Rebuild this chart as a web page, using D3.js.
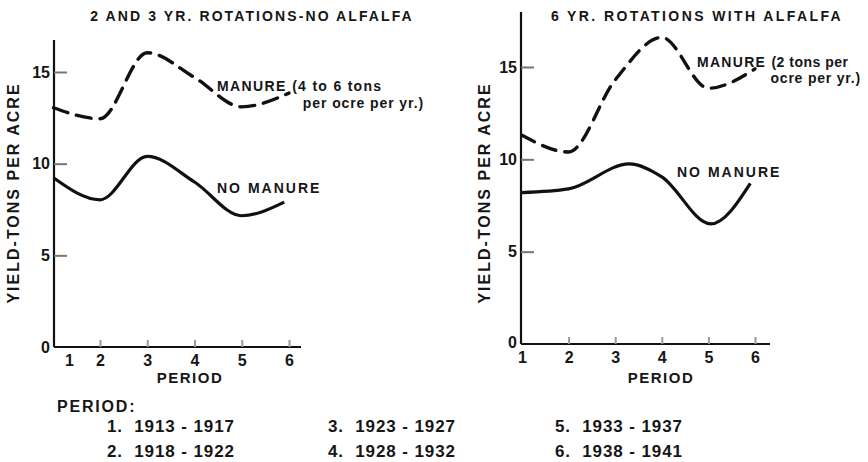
<!DOCTYPE html>
<html>
<head>
<meta charset="utf-8">
<script src="https://cdn.jsdelivr.net/npm/d3@7"></script>
<style>
body { margin: 0; background: #fff; }
text { font-family: "Liberation Sans", sans-serif; font-weight: bold; fill: #161616; }
</style>
</head>
<body>
<div id="graphic"></div>
<script>
// periods and y ticks
var periods = [1, 2, 3, 4, 5, 6];
var yTicks = [0, 5, 10, 15];

// left panel: 2 and 3 yr rotations
var leftManureX = [0.5, 2, 3, 4, 5, 6];
var leftManureY = [13.05, 12.45, 16.05, 14.7, 13.1, 13.85];
var leftNoManureX = [0.5, 2, 3, 4, 5, 5.9];
var leftNoManureY = [9.23, 8.03, 10.4, 9.0, 7.16, 7.9];

// right panel: 6 yr rotations
var rightManureX = [1, 2, 3, 4, 5, 6];
var rightManureY = [11.3, 10.4, 14.3, 16.6, 13.85, 14.9];
var rightNoManureX = [1, 2, 3.3, 4, 5.05, 5.9];
var rightNoManureY = [8.2, 8.4, 9.75, 9.05, 6.5, 8.7];

var periodYears = ["1913 - 1917", "1918 - 1922", "1923 - 1927", "1928 - 1932", "1933 - 1937", "1938 - 1941"];

var svg = d3.select("#graphic").append("svg")
    .attr("width", 868)
    .attr("height", 462);

function zip(xs, ys) {
  return xs.map(function (x, i) { return [x, ys[i]]; });
}

function panel(opt) {
  var g = svg.append("g");
  var x = opt.x, y = opt.y;

  // axis lines
  g.append("line")
    .attr("x1", opt.axisX).attr("x2", opt.axisX)
    .attr("y1", opt.axisTop).attr("y2", y(0))
    .attr("stroke", "#111").attr("stroke-width", 2.2);
  g.append("line")
    .attr("x1", opt.axisX).attr("x2", opt.axisRight)
    .attr("y1", y(0)).attr("y2", y(0))
    .attr("stroke", "#111").attr("stroke-width", 2.2);

  // y axis
  var ya = g.append("g")
    .attr("transform", "translate(" + opt.axisX + ",0)")
    .call(d3.axisLeft(y).tickValues(yTicks).tickFormat(d3.format("d"))
      .tickSizeInner(-13).tickSizeOuter(0).tickPadding(4));
  ya.select(".domain").remove();
  ya.selectAll(".tick line").attr("stroke", "#777").attr("stroke-width", 2);
  ya.selectAll(".tick").filter(function (d) { return d === 0; }).select("line").remove();
  ya.selectAll(".tick text").attr("font-size", 16)
    .style("font-family", "Liberation Sans").style("font-weight", "bold");

  // x axis
  var xa = g.append("g")
    .attr("transform", "translate(0," + y(0) + ")")
    .call(d3.axisBottom(x).tickValues(periods).tickFormat(d3.format("d"))
      .tickSizeInner(-7).tickSizeOuter(0).tickPadding(8));
  xa.select(".domain").remove();
  xa.selectAll(".tick line").attr("stroke", "#999").attr("stroke-width", 2);
  xa.selectAll(".tick").filter(function (d) { return d === 1; }).select("line").remove();
  xa.selectAll(".tick text").attr("font-size", 16)
    .style("font-family", "Liberation Sans").style("font-weight", "bold");

  var line = d3.line()
    .x(function (d) { return x(d[0]); })
    .y(function (d) { return y(d[1]); })
    .curve(d3.curveMonotoneX);

  g.append("path")
    .attr("d", line(opt.manure))
    .attr("fill", "none").attr("stroke", "#111")
    .attr("stroke-width", 3.4).attr("stroke-dasharray", opt.dash)
    .attr("stroke-linecap", "round");
  g.append("path")
    .attr("d", line(opt.noManure))
    .attr("fill", "none").attr("stroke", "#111")
    .attr("stroke-width", 3.2);

  // title
  g.append("text")
    .attr("x", opt.titleX).attr("y", 21)
    .attr("text-anchor", "middle")
    .attr("font-size", 14).attr("letter-spacing", opt.titleSpacing)
    .text(opt.title);

  // axis titles
  g.append("text")
    .attr("transform", "translate(" + opt.yTitleX + ",193) rotate(-90)")
    .attr("text-anchor", "middle")
    .attr("font-size", 16).attr("letter-spacing", 2)
    .text("YIELD-TONS PER ACRE");
  g.append("text")
    .attr("x", opt.xTitleX).attr("y", 383)
    .attr("text-anchor", "middle")
    .attr("font-size", 15).attr("letter-spacing", 1.5)
    .text("PERIOD");

  return g;
}

var left = panel({
  x: d3.scaleLinear().domain([1, 2, 6]).range([69, 100, 289]),
  y: d3.scaleLinear().domain([0, 15]).range([347, 72]),
  axisX: 54, axisTop: 40, axisRight: 301,
  manure: zip(leftManureX, leftManureY),
  noManure: zip(leftNoManureX, leftNoManureY),
  dash: "15,9",
  title: "2 AND 3 YR. ROTATIONS-NO ALFALFA", titleSpacing: 2.1,
  titleX: 252, yTitleX: 19, xTitleX: 190
});

var right = panel({
  x: d3.scaleLinear().domain([1, 6]).range([522, 755]),
  y: d3.scaleLinear().domain([0, 15]).range([344, 67]),
  axisX: 521, axisTop: 12, axisRight: 770,
  manure: zip(rightManureX, rightManureY),
  noManure: zip(rightNoManureX, rightNoManureY),
  dash: "14,9",
  title: "6 YR. ROTATIONS WITH ALFALFA", titleSpacing: 2.4,
  titleX: 697, yTitleX: 490, xTitleX: 661
});

// lift the right "0" a little so it clears the "1" below
right.selectAll(".tick text").filter(function (d) { return d === 0; }).attr("dy", "0.2em");

// annotations
function note(g, x, y, parts, anchor) {
  var t = g.append("text").attr("x", x).attr("y", y).attr("font-size", 14)
    .attr("text-anchor", anchor || "start");
  parts.forEach(function (p) {
    t.append("tspan").attr("font-size", p[1]).attr("letter-spacing", p[2]).text(p[0]);
  });
}
note(left, 217, 91, [["MANURE ", 14, 1.4], ["(4 to 6 tons", 14, 1.3]]);
note(left, 424, 108, [["per ocre per yr.)", 14, 0.9]], "end");
note(left, 217, 193, [["NO MANURE", 14, 2]]);
note(right, 697, 67, [["MANURE ", 14, 1.3], ["(2 tons per", 14, 0.5]]);
note(right, 861, 83, [["ocre per yr.)", 14, 0.8]], "end");
note(right, 677, 177, [["NO MANURE", 14, 2]]);

// period key
var key = svg.append("g");
key.append("text").attr("x", 57).attr("y", 412).attr("font-size", 16).attr("letter-spacing", 1.8).text("PERIOD:");
var colX = [107, 328, 555];
var rowY = [432, 457];
periods.forEach(function (p, i) {
  key.append("text")
    .attr("x", colX[Math.floor(i / 2)])
    .attr("y", rowY[i % 2])
    .attr("font-size", 17).attr("letter-spacing", 0.9)
    .attr("xml:space", "preserve")
    .text(p + ".  " + periodYears[i]);
});
</script>
</body>
</html>
